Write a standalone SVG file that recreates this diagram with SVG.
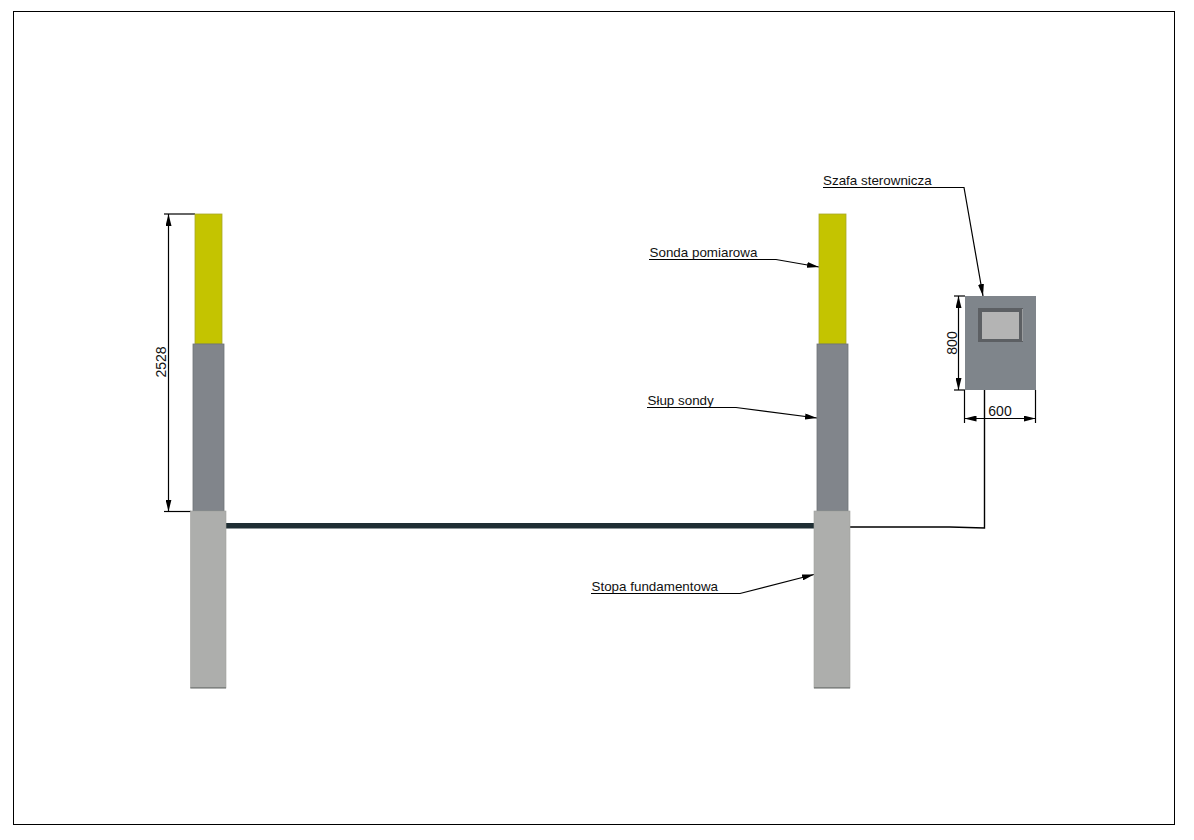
<svg xmlns="http://www.w3.org/2000/svg" width="1194" height="840" viewBox="0 0 1194 840">
<defs>
<marker id="arrow" viewBox="0 0 12 6" refX="12" refY="3" markerWidth="12" markerHeight="6" markerUnits="userSpaceOnUse" orient="auto-start-reverse"><path d="M0 0L12 3L0 6Z" fill="#000"/></marker>
</defs>
<style>
text{font-family:"Liberation Sans",Arial,sans-serif;font-size:13.4px;fill:#111}
text.d{font-size:14px}
.ln{fill:none;stroke:#000;stroke-width:1.2}
.ar{fill:none;stroke:#000;stroke-width:1.2;marker-end:url(#arrow)}
.dim{fill:none;stroke:#000;stroke-width:1.2;marker-start:url(#arrow);marker-end:url(#arrow)}
.probe{fill:#c4c400;stroke:#a9a92a;stroke-width:.8}
.post{fill:#81858b;stroke:#6f7378;stroke-width:.8}
.foot{fill:#adaeac;stroke:#a0a19f;stroke-width:.6}
.base{fill:#7f8280}
</style>
<rect id="frame" x="13.5" y="11.5" width="1161" height="813" fill="#fff" stroke="#000" stroke-width="1"/>
<g id="connectors">
<rect id="cable-main" x="226" y="523" width="588" height="5.5" fill="#1f2e34"/>
<path class="ln" d="M850 527H950L984.500 528V390" stroke-width="1.400" style="stroke-width:1.400"/>
<path class="ln" d="M164 214H195"/>
<path class="ln" d="M164 511.500H191"/>
<path class="dim" d="M168.500 214V511.500"/>
<path class="ln" d="M954 296H965"/>
<path class="ln" d="M954 390H965"/>
<path class="dim" d="M958.500 296V390"/>
<path class="ln" d="M964.500 390V423"/>
<path class="ln" d="M1035.500 390V423"/>
<path class="dim" d="M964.500 418.500H1035.500"/>
<path class="ar" d="M823 187.500H964L983 296"/>
<path class="ar" d="M649 259.500H776L819 267"/>
<path class="ar" d="M647 407.500H736L817 418"/>
<path class="ar" d="M591 593.500H740L814 574.500"/>
</g>
<g id="post-left">
<rect class="probe" x="195" y="214" width="27" height="130"/>
<rect class="post" x="193" y="344" width="31" height="167"/>
<rect class="foot" x="190.500" y="511" width="35.500" height="177"/>
<rect class="base" x="190.500" y="687" width="35.500" height="1.500"/>
</g>
<g id="post-right">
<rect class="probe" x="819" y="214" width="27" height="130"/>
<rect class="post" x="817" y="344" width="31" height="167"/>
<rect class="foot" x="814" y="511" width="36" height="177"/>
<rect class="base" x="814" y="687" width="36" height="1.500"/>
</g>
<g id="cabinet">
<rect x="965" y="296" width="71" height="94" fill="#7f858b"/>
<rect x="978" y="308" width="45" height="34" fill="#5c5f63"/>
<rect x="1022" y="309" width="1" height="32" fill="#9a9c9e"/>
<rect x="982" y="312" width="37" height="27" fill="#b4b4b4"/>
</g>
<g id="labels">
<text x="823" y="185">Szafa sterownicza</text>
<text x="649.500" y="257">Sonda pomiarowa</text>
<text x="647.500" y="405">Słup sondy</text>
<text x="591.500" y="591">Stopa fundamentowa</text>
<text class="d" x="1000" y="416" text-anchor="middle">600</text>
<text class="d" transform="translate(956.500 343) rotate(-90)" text-anchor="middle">800</text>
<text class="d" transform="translate(166 362) rotate(-90)" text-anchor="middle">2528</text>
</g>
</svg>
